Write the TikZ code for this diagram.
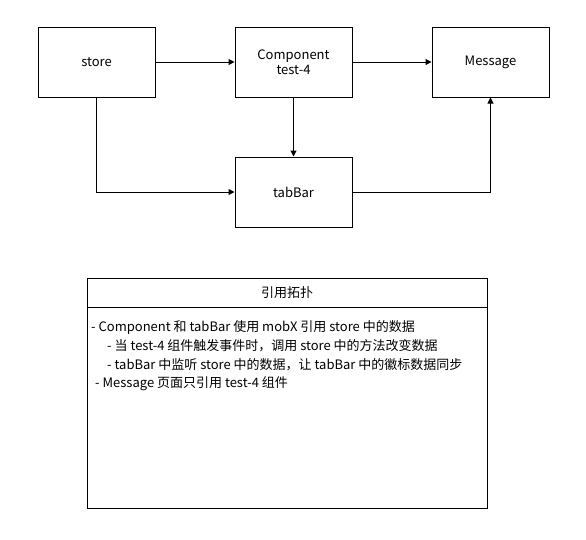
\documentclass[tikz,border=0pt]{standalone}
\usepackage{fontspec}
\setmainfont{Noto Sans CJK SC}
\usetikzlibrary{arrows.meta}
\begin{document}
\begin{tikzpicture}[x=1pt,y=-1pt,
  box/.style={draw,line width=1pt,minimum width=117pt,minimum height=70pt,font=\fontsize{13}{15.5}\selectfont,align=center,inner sep=0pt},
  conn/.style={line width=1pt,-{Triangle[length=6pt,width=6pt]}},
  txt/.style={anchor=west,inner sep=0pt,font=\fontsize{13}{15}\selectfont}]
\useasboundingbox (0,0) rectangle (586,539);
\node[box] (store) at (96.5,62) {store};
\node[box] (comp) at (293.5,62) {Component\\test-4};
\node[box] (msg) at (490.5,62) {Message};
\node[box] (tab) at (293.5,192) {tabBar};
\draw[conn] (store) -- (comp);
\draw[conn] (comp) -- (msg);
\draw[conn] (comp) -- (tab);
\draw[conn] (store.south) |- (tab.west);
\draw[conn] (tab.east) -| (msg.south);
\draw[line width=1pt] (87,278) rectangle (487,508);
\draw[line width=1pt] (87,307) -- (487,307);
\node[inner sep=0pt,font=\fontsize{13}{15}\selectfont] (title) at (287,293) {引用拓扑};
\node[txt] (l1) at (91,327) {- Component 和 tabBar 使用 mobX 引用 store 中的数据};
\node[txt] (l2) at (107,346) {- 当 test-4 组件触发事件时，调用 store 中的方法改变数据};
\node[txt] (l3) at (107,365) {- tabBar 中监听 store 中的数据，让 tabBar 中的徽标数据同步};
\node[txt] (l4) at (95,384) {- Message 页面只引用 test-4 组件};
\end{tikzpicture}
\end{document}
